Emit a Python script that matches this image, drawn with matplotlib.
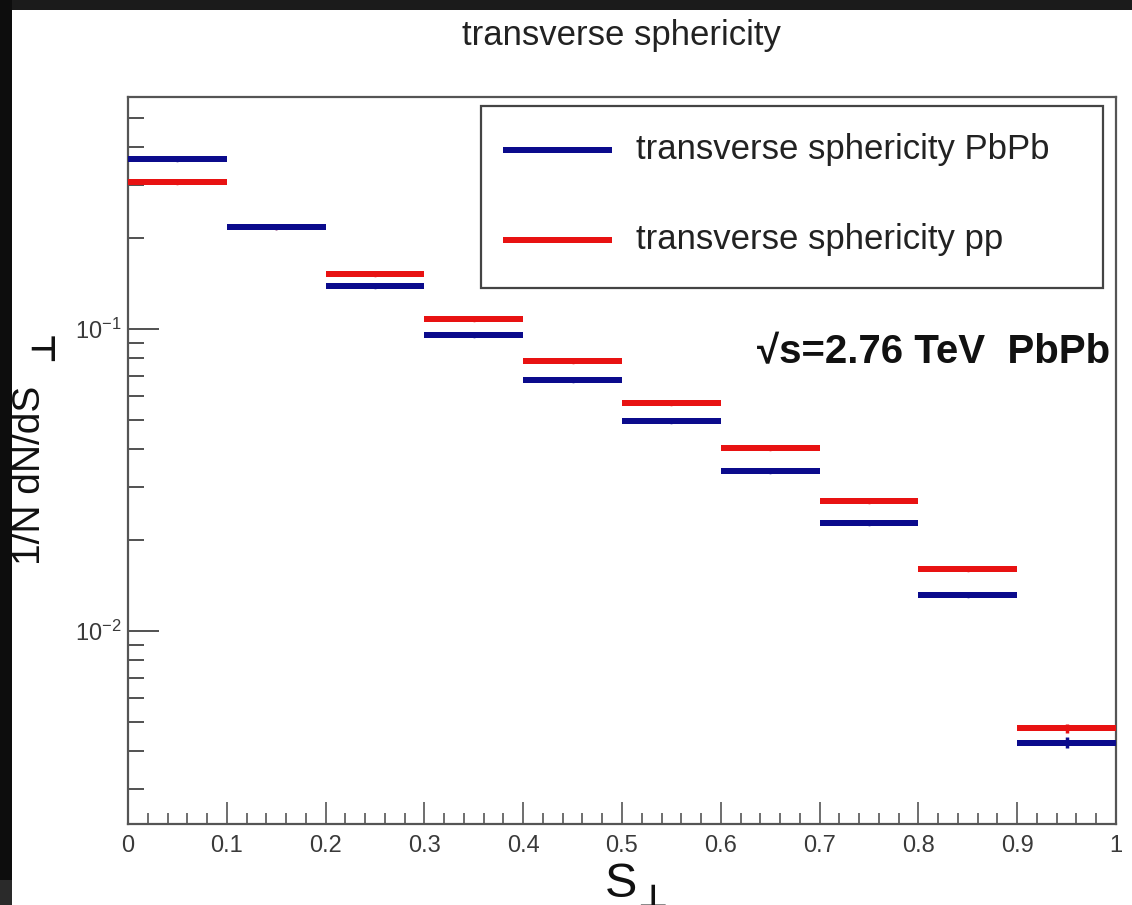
import matplotlib
matplotlib.use('Agg')
import matplotlib.pyplot as plt
from matplotlib.patches import Rectangle
from matplotlib.lines import Line2D
from matplotlib.ticker import FixedLocator, MultipleLocator, LogLocator, NullFormatter, FixedFormatter
import numpy as np

# ---------------- data ----------------
bin_edges = [0.0, 0.1, 0.2, 0.3, 0.4, 0.5, 0.6, 0.7, 0.8, 0.9, 1.0]
pbpb_values = [0.366, 0.218, 0.1388, 0.0957, 0.0678, 0.0497, 0.0339, 0.02284, 0.01313, 0.00427]
pp_values = [0.307, 0.218, 0.152, 0.1079, 0.0782, 0.0568, 0.0404, 0.0269, 0.01608, 0.00476]
pbpb_errors = [0.003, 0.002, 0.0015, 0.001, 0.0008, 0.0006, 0.0004, 0.0003, 0.0002, 0.00018]
pp_errors = [0.003, 0.002, 0.0015, 0.001, 0.0008, 0.0006, 0.0004, 0.0003, 0.0002, 0.00017]
x_tick_values = [0.0, 0.1, 0.2, 0.3, 0.4, 0.5, 0.6, 0.7, 0.8, 0.9, 1.0]
x_tick_labels = ['0', '0.1', '0.2', '0.3', '0.4', '0.5', '0.6', '0.7', '0.8', '0.9', '1']
series_labels = ['transverse sphericity PbPb', 'transverse sphericity pp']
title_text = 'transverse sphericity'
energy_text = '√s=2.76 TeV  PbPb'
x_label_main = 'S'
y_label_main = '1/N dN/dS'
label_subscript = '⊥'

# ---------------- style ----------------
W, H = 1132, 905
plt.rcParams['font.family'] = ['Liberation Sans', 'DejaVu Sans']
plt.rcParams['mathtext.fontset'] = 'custom'
plt.rcParams['mathtext.rm'] = 'Liberation Sans'
plt.rcParams['mathtext.it'] = 'Liberation Sans:italic'
plt.rcParams['mathtext.bf'] = 'Liberation Sans:bold'

BLUE = '#0b0b8c'
RED = '#e81212'
FRAME = '#555555'
TXT = '#222222'

def fx(px):
    return px / W

def fy(py):
    return 1 - py / H

fig = plt.figure(figsize=(W / 100, H / 100), dpi=100)
fig.patch.set_facecolor('white')

ax = fig.add_axes([fx(128), fy(824), fx(1116) - fx(128), fy(97) - fy(824)])
ax.set_yscale('log')
ax.set_xlim(0, 1)
ax.set_ylim(0.002296, 0.586)

edges = np.array(bin_edges)
centers = 0.5 * (edges[:-1] + edges[1:])
lw = 6 * 72 / 100

ax.hlines(pp_values, edges[:-1], edges[1:], colors=RED, linewidth=lw, capstyle='butt', zorder=3)
ax.errorbar(centers, pp_values, yerr=pp_errors, fmt='o', color=RED, markersize=3,
            elinewidth=2.5, capsize=0, zorder=3)
ax.hlines(pbpb_values, edges[:-1], edges[1:], colors=BLUE, linewidth=lw, capstyle='butt', zorder=4)
ax.errorbar(centers, pbpb_values, yerr=pbpb_errors, fmt='o', color=BLUE, markersize=3,
            elinewidth=2.5, capsize=0, zorder=4)

# axes frame
for s in ax.spines.values():
    s.set_color(FRAME)
    s.set_linewidth(1.6)

ax.xaxis.set_major_locator(FixedLocator(x_tick_values))
ax.xaxis.set_major_formatter(FixedFormatter(x_tick_labels))
ax.xaxis.set_minor_locator(MultipleLocator(0.02))
ax.yaxis.set_major_locator(LogLocator(base=10))
ax.yaxis.set_minor_locator(LogLocator(base=10, subs=np.arange(2, 10)))
ax.yaxis.set_minor_formatter(NullFormatter())

ax.tick_params(axis='x', which='major', direction='in', length=15.8, width=1.2,
               color=FRAME, top=False, pad=8, labelsize=17, labelcolor='#3a3a3a')
ax.tick_params(axis='x', which='minor', direction='in', length=8, width=1.2,
               color=FRAME, top=False)
ax.tick_params(axis='y', which='major', direction='in', length=22, width=1.2,
               color='#333333', right=False, pad=5, labelsize=17, labelcolor='#3a3a3a')
ax.tick_params(axis='y', which='minor', direction='in', length=11.5, width=1.2,
               color='#333333', right=False)

# title
fig.text(fx(621), fy(36), title_text, ha='center', va='center', fontsize=25, color=TXT)

# x axis label: S with a bold perpendicular subscript (cut by the image edge, as in the original)
fig.text(fx(605), fy(897), x_label_main, ha='left', va='baseline', fontsize=35, color='#111111')
fig.text(fx(652), fy(882), label_subscript, ha='center', va='top', fontsize=24,
         fontweight='bold', family=['DejaVu Sans'], color='#111111')

# y axis label (rotated), with bold perpendicular subscript
fig.text(fx(40), fy(565), y_label_main, rotation=90, rotation_mode='anchor',
         ha='left', va='baseline', fontsize=28, color='#111111')
fig.text(fx(53), fy(361), label_subscript, rotation=90, rotation_mode='anchor',
         ha='left', va='baseline', fontsize=24, fontweight='bold',
         family=['DejaVu Sans'], color='#111111')

# energy label
fig.text(fx(757), fy(352), energy_text, ha='left', va='center', fontsize=29,
         fontweight='bold', color='#111111')

# legend (manual, ROOT style)
fig.add_artist(Rectangle((fx(481), fy(288)), fx(1103) - fx(481), fy(106) - fy(288),
                         transform=fig.transFigure, facecolor='white', edgecolor='#444444',
                         linewidth=1.6, zorder=5))
for yy, col, lab in [(150, BLUE, series_labels[0]), (240, RED, series_labels[1])]:
    fig.add_artist(Line2D([fx(503), fx(612)], [fy(yy), fy(yy)], transform=fig.transFigure,
                          color=col, linewidth=lw, solid_capstyle='butt', zorder=6))
    fig.text(fx(636), fy(yy), lab, ha='left', va='center', fontsize=25, color=TXT, zorder=6)

# dark screenshot border
fig.add_artist(Rectangle((0, fy(10)), 1, 1 - fy(10), transform=fig.transFigure,
                         facecolor='#1b1b1b', edgecolor='none', zorder=20))
fig.add_artist(Rectangle((0, 0), fx(12), 1, transform=fig.transFigure,
                         facecolor='#0d0d0d', edgecolor='none', zorder=20))
fig.add_artist(Rectangle((0, 0), fx(12), fy(880), transform=fig.transFigure,
                         facecolor='#2a2a2a', edgecolor='none', zorder=21))

fig.savefig('out.png', dpi=100)
